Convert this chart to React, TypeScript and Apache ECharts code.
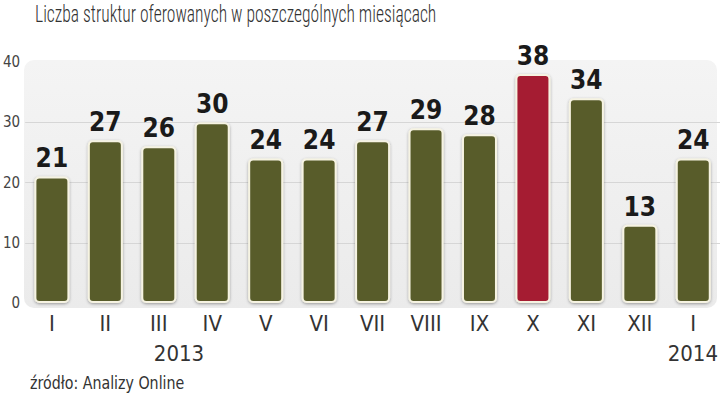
import React, { useEffect, useRef } from "react";
import * as echarts from "echarts";

const months = ["I", "II", "III", "IV", "V", "VI", "VII", "VIII", "IX", "X", "XI", "XII", "I"];
const values = [21, 27, 26, 30, 24, 24, 27, 29, 28, 38, 34, 13, 24];
const highlightIndex = 9;
const yearLabels = ["2013", "2014"];
const titleText = "Liczba struktur oferowanych w poszczególnych miesiącach";
const sourceText = "źródło: Analizy Online";

const OLIVE = "#585c2c";
const RED = "#a51c33";
const NARROW = "'DejaVu Sans Condensed', 'DejaVu Sans', sans-serif";

export default function App() {
  const ref = useRef<HTMLDivElement>(null);
  useEffect(() => {
    document.body.style.margin = "0";
    const st = document.createElement("style");
    st.textContent = "#root svg text { font-stretch: condensed !important; }";
    document.head.appendChild(st);
    if (!ref.current) return;
    const chart = echarts.init(ref.current, null, { renderer: "svg" });
    chart.setOption({
      animation: false,
      backgroundColor: "#ffffff",
      grid: { left: 24, right: 0, top: 62, bottom: 93 },
      graphic: [
        {
          type: "rect",
          z: -10,
          shape: { x: 24, y: 60, width: 693, height: 248, r: 10 },
          style: {
            fill: new echarts.graphic.LinearGradient(0, 0, 0, 1, [
              { offset: 0, color: "#f4f4f4" },
              { offset: 1, color: "#ebebeb" },
            ]),
          },
          silent: true,
        },
        {
          type: "text",
          x: 35,
          y: 14,
          scaleX: 0.73,
          style: {
            text: titleText,
            fontFamily: "Roboto, 'DejaVu Sans', sans-serif",
            fontWeight: 300,
            fontSize: 24,
            fill: "#333",
            verticalAlign: "middle",
          },
        },
        {
          type: "text",
          x: 179,
          y: 353,
          style: {
            text: yearLabels[0],
            fontFamily: NARROW,
            fontSize: 22,
            fill: "#333",
            align: "center",
            verticalAlign: "middle",
          },
        },
        {
          type: "text",
          x: 718,
          y: 353,
          style: {
            text: yearLabels[1],
            fontFamily: NARROW,
            fontSize: 22,
            fill: "#333",
            align: "right",
            verticalAlign: "middle",
          },
        },
        {
          type: "text",
          x: 30,
          y: 383,
          scaleX: 0.93,
          style: {
            text: sourceText,
            fontFamily: NARROW,
            fontSize: 17,
            fill: "#333",
            verticalAlign: "middle",
          },
        },
      ],
      xAxis: {
        type: "category",
        data: months,
        axisLine: { show: false },
        axisTick: { show: false },
        axisLabel: {
          fontFamily: NARROW,
          fontSize: 22,
          color: "#333",
          margin: 9,
        },
      },
      yAxis: {
        type: "value",
        min: 0,
        max: 40,
        interval: 10,
        axisLine: { show: false },
        axisTick: { show: false },
        axisLabel: {
          fontFamily: NARROW,
          fontSize: 15,
          color: "#444",
          margin: 5,
        },
        splitLine: {
          lineStyle: {
            color: ["transparent", "#d6d6d6", "#d6d6d6", "#d6d6d6", "transparent"],
            width: 1,
          },
        },
      },
      series: [
        {
          type: "bar",
          barWidth: 35,
          data: values.map((v, i) => ({
            value: v,
            itemStyle: { color: i === highlightIndex ? RED : OLIVE },
          })),
          itemStyle: {
            borderColor: "#f6f3e2",
            borderWidth: 2,
            borderRadius: 4,
            shadowBlur: 3,
            shadowColor: "rgba(0,0,0,0.35)",
            shadowOffsetY: 1,
          },
          label: {
            show: true,
            position: "top",
            distance: 5,
            fontFamily: NARROW,
            fontWeight: "bold",
            fontSize: 26,
            color: "#1a1a1a",
          },
        },
      ],
    });
    return () => {
      chart.dispose();
      st.remove();
    };
  }, []);
  return <div ref={ref} style={{ width: 720, height: 396 }} />;
}
